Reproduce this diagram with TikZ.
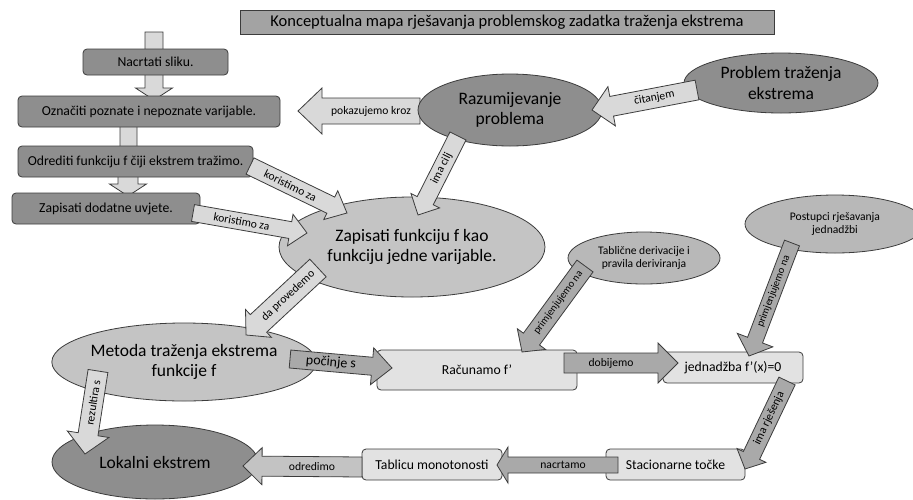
\documentclass[tikz,border=0pt]{standalone}
\usepackage{fontspec}
\setmainfont{Carlito}
\usetikzlibrary{shapes.geometric}
\definecolor{outl}{HTML}{3C3C3C}
\definecolor{darkfill}{HTML}{8E8E8E}
\definecolor{titlefill}{HTML}{A3A3A3}
\definecolor{lightell}{HTML}{C4C4C4}
\definecolor{midell}{HTML}{B8B8B8}
\definecolor{lightboxfill}{HTML}{E2E2E2}
\definecolor{arrlight}{HTML}{D9D9D9}
\definecolor{arrdark}{HTML}{A9A9A9}
\definecolor{arrmid}{HTML}{C3C3C3}
% #1 tail, #2 tip, #3 fill, #4 shaft half width, #5 head half width, #6 head length, #7 label, #8 font size
\newcommand\blockarrow[8]{%
  \path (#1); \pgfgetlastxy{\bAx}{\bAy}%
  \path (#2); \pgfgetlastxy{\bBx}{\bBy}%
  \pgfmathsetmacro\bAng{atan2((\bBy)-(\bAy),(\bBx)-(\bAx))}%
  \pgfmathsetmacro\bLen{veclen((\bBx)-(\bAx),(\bBy)-(\bAy))}%
  \pgfmathsetmacro\bHb{\bLen-#6}%
  \pgfmathsetmacro\bTang{abs(\bAng)>90 ? \bAng+180 : \bAng}%
  \pgfmathsetmacro\bMid{\bHb/2}%
  \begin{scope}[shift={(\bAx,\bAy)}, rotate=\bAng]
    \filldraw[fill=#3, draw=outl, line width=0.8pt, line join=miter]
      (0pt,#4pt) -- (\bHb pt,#4pt) -- (\bHb pt,#5pt) -- (\bLen pt,0pt)
      -- (\bHb pt,-#5pt) -- (\bHb pt,-#4pt) -- (0pt,-#4pt) -- cycle;
    \node[rotate=\bTang, inner sep=0pt, font=\fontsize{#8}{#8}\selectfont] at (\bMid pt,0pt) {#7};
  \end{scope}}
\begin{document}
\begin{tikzpicture}[x=1pt,y=-1pt,
  boxbase/.style={draw=outl, line width=0.8pt, rounded corners=4pt, inner sep=0pt, align=center,
    font=\fontsize{13.7}{16}\selectfont},
  darkbox/.style={boxbase, fill=darkfill},
  lightbox/.style={boxbase, fill=lightboxfill},
  titlebox/.style={draw=outl, line width=0.8pt, fill=titlefill, inner sep=0pt,
    font=\fontsize{16.5}{19}\selectfont},
  ellbase/.style={ellipse, draw=outl, line width=0.8pt, inner sep=0pt, align=center,
    font=\fontsize{17.5}{20.5}\selectfont},
  smallell/.style={ellipse, draw=outl, line width=0.8pt, inner sep=0pt, align=center,
    font=\fontsize{11.6}{13.5}\selectfont, fill=midell}
]
\clip (0,0) rectangle (913,499);
\fill[white] (0,0) rectangle (913,499);

% arrow end points
\coordinate (v0t) at (154,32);   \coordinate (v0h) at (154,66);
\coordinate (v1t) at (154,70);   \coordinate (v1h) at (154,100);
\coordinate (v2t) at (128.5,120); \coordinate (v2h) at (128.5,158);
\coordinate (v3t) at (128,170);  \coordinate (v3h) at (128,196);
\coordinate (pkT) at (420,111);  \coordinate (pkH) at (298,111);
\coordinate (ciT) at (697,90);   \coordinate (ciH) at (592,110);
\coordinate (icT) at (458,136);  \coordinate (icH) at (418,215);
\coordinate (k1T) at (250,166);  \coordinate (k1H) at (347,213);
\coordinate (k2T) at (193,213);  \coordinate (k2H) at (307,233);
\coordinate (dpT) at (318,268);  \coordinate (dpH) at (246,335);
\coordinate (psT) at (290,359);  \coordinate (psH) at (392,368);
\coordinate (rzT) at (98,371);   \coordinate (rzH) at (85,454);
\coordinate (odT) at (362,467);  \coordinate (odH) at (243,466);
\coordinate (ncT) at (618,465);  \coordinate (ncH) at (497,465);
\coordinate (dbT) at (564,363);  \coordinate (dbH) at (678,363);
\coordinate (irT) at (787,381);  \coordinate (irH) at (745,469);
\coordinate (p1T) at (585,266);  \coordinate (p1H) at (522,352);
\coordinate (p2T) at (792,243);  \coordinate (p2H) at (749,356);

% arrows lying under the boxes
\blockarrow{v0t}{v0h}{arrlight}{9}{18}{10}{}{11.6}
\blockarrow{v1t}{v1h}{arrlight}{9}{18.5}{12}{}{11.6}
\blockarrow{v2t}{v2h}{arrlight}{8.5}{17}{10}{}{11.6}
\blockarrow{v3t}{v3h}{arrlight}{10}{18.5}{12}{}{11.6}
\blockarrow{pkT}{pkH}{arrlight}{13}{23}{24}{pokazujemo kroz}{11.6}

% title
\node[titlebox, minimum width=534pt, minimum height=24pt] (title) at (507,22)
  {Konceptualna mapa rješavanja problemskog zadatka traženja ekstrema};

% left boxes
\node[darkbox, minimum width=145pt, minimum height=26pt] (nac) at (155.5,62) {Nacrtati sliku.};
\node[darkbox, minimum width=262pt, minimum height=31pt] (ozn) at (149,111.5) {Označiti poznate i nepoznate varijable.};
\node[darkbox, minimum width=235pt, minimum height=31pt] (odr) at (135.5,161.5) {Odrediti funkciju f čiji ekstrem tražimo.};
\node[darkbox, minimum width=188pt, minimum height=31pt] (zdu) at (106,208.5) {Zapisati dodatne uvjete.};

% ellipses
\node[ellbase, fill=darkfill, minimum width=184pt, minimum height=72pt] (raz) at (510,110) {Razumijevanje\\problema};
\node[ellbase, fill=darkfill, minimum width=194pt, minimum height=60pt] (prob) at (781,83) {Problem traženja\\ekstrema};
\node[ellbase, fill=lightell, minimum width=266pt, minimum height=100pt] (zf) at (412,247) {Zapisati funkciju f kao\\funkciju jedne varijable.};
\node[ellbase, fill=lightell, minimum width=264pt, minimum height=78pt] (met) at (184,362) {Metoda traženja ekstrema\\funkcije f};
\node[ellbase, fill=darkfill, minimum width=206pt, minimum height=74pt] (lok) at (155,462) {Lokalni ekstrem};
\node[smallell, minimum width=152pt, minimum height=52pt] (tab) at (644,258) {Tablične derivacije i\\pravila deriviranja};
\node[smallell, minimum width=180pt, minimum height=58pt] (post) at (835,224) {Postupci rješavanja\\jednadžbi};

% light boxes
\node[lightbox, minimum width=200pt, minimum height=40pt] (rac) at (477,370) {Računamo f’};
\node[lightbox, minimum width=140pt, minimum height=31pt] (jed) at (733,367.5) {jednadžba f’(x)=0};
\node[lightbox, minimum width=140pt, minimum height=31pt] (tmo) at (432,464.5) {Tablicu monotonosti};
\node[lightbox, minimum width=139pt, minimum height=31pt] (sta) at (675.5,464.5) {Stacionarne točke};

% arrows on top
\blockarrow{ciT}{ciH}{arrlight}{10}{20}{20}{čitanjem}{11.6}
\blockarrow{icT}{icH}{arrlight}{9}{16}{16}{ima cilj}{11.6}
\blockarrow{k1T}{k1H}{arrlight}{9}{16}{18}{koristimo za}{11.6}
\blockarrow{k2T}{k2H}{arrlight}{8.5}{16}{17}{koristimo za}{11.6}
\blockarrow{dpT}{dpH}{arrlight}{12}{19}{17}{da provedemo}{11.6}
\blockarrow{psT}{psH}{arrdark}{9}{18.5}{20}{počinje s}{14}
\blockarrow{rzT}{rzH}{arrlight}{10}{21}{20}{rezultira s}{11.6}
\blockarrow{odT}{odH}{arrmid}{10}{18.5}{19}{odredimo}{11.6}
\blockarrow{ncT}{ncH}{arrdark}{8}{18}{11}{nacrtamo}{11.6}
\blockarrow{dbT}{dbH}{arrdark}{10}{20}{20}{dobijemo}{11.6}
\blockarrow{irT}{irH}{arrdark}{9}{16}{15}{ima rješenja}{11.6}
\blockarrow{p1T}{p1H}{arrdark}{10}{17.5}{16}{primjenjujemo na}{10.5}
\blockarrow{p2T}{p2H}{arrdark}{8}{19}{17}{primjenjujemo na}{10.5}
\end{tikzpicture}
\end{document}
